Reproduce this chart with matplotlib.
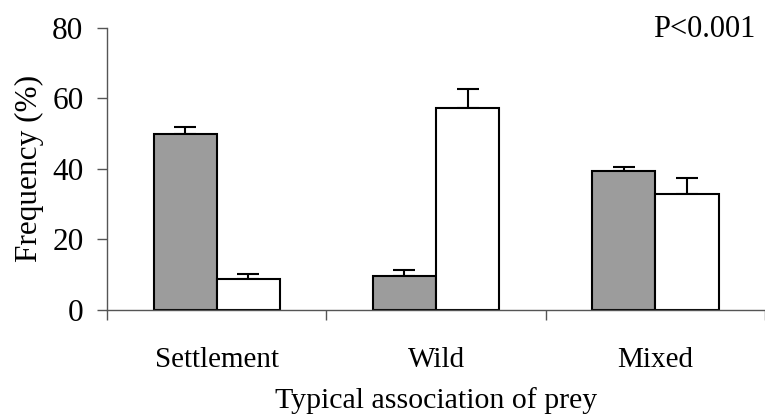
"""Prey association frequency: grey vs white groups, upward SE bars."""

import matplotlib

matplotlib.use("Agg")
import matplotlib.pyplot as plt
import numpy as np

categories = ["Settlement", "Wild", "Mixed"]
grey_vals = [50.0, 9.6, 39.4]
grey_err = [2.0, 1.7, 1.0]
white_vals = [8.8, 57.3, 33.0]
white_err = [1.4, 5.4, 4.4]
y_ticks = [0, 20, 40, 60, 80]
p_text = "P<0.001"

plt.rcParams["font.family"] = ["Liberation Serif", "DejaVu Serif"]
plt.rcParams["font.size"] = 21

fig = plt.figure(figsize=(7.65, 4.17), dpi=100)
ax = fig.add_axes([0.140, 0.257, 0.860, 0.676])

x = np.arange(len(categories))
w = 0.288
ax.bar(x - w / 2, grey_vals, w, color="#9c9c9c", edgecolor="black", linewidth=1.5, zorder=2)
ax.bar(x + w / 2, white_vals, w, color="white", edgecolor="black", linewidth=1.5, zorder=2)
ax.errorbar(x - w / 2, grey_vals, yerr=[np.zeros(3), grey_err], fmt="none",
            ecolor="black", elinewidth=1.5, capsize=8, capthick=1.5, zorder=1)
ax.errorbar(x + w / 2, white_vals, yerr=[np.zeros(3), white_err], fmt="none",
            ecolor="black", elinewidth=1.5, capsize=8, capthick=1.5, zorder=1)

ax.set_xlim(-0.5, len(categories) - 0.5)
ax.set_ylim(0, 80)
ax.set_yticks(y_ticks)

# boundaries get the tick marks, centres get the labels
ax.set_xticks(np.arange(len(categories) + 1) - 0.5)
ax.set_xticklabels([])
ax.set_xticks(x, minor=True)
ax.set_xticklabels(categories, minor=True, fontsize=21)
ax.tick_params(axis="x", which="major", length=7, width=1, color="#555555", direction="out")
ax.tick_params(axis="x", which="minor", length=0, pad=27)
ax.tick_params(axis="y", length=7, width=1, color="#555555", pad=10, labelsize=22.5)

for side in ["top", "right"]:
    ax.spines[side].set_visible(False)
for side in ["left", "bottom"]:
    ax.spines[side].set_color("#555555")
    ax.spines[side].set_linewidth(1)

ax.set_ylabel("Frequency (%)", labelpad=6, fontsize=22.5)
ax.set_xlabel("Typical association of prey", labelpad=10, fontsize=21.5)

fig.text(0.987, 0.911, p_text, ha="right", va="baseline", fontsize=22)

fig.savefig("out.png", dpi=100)
